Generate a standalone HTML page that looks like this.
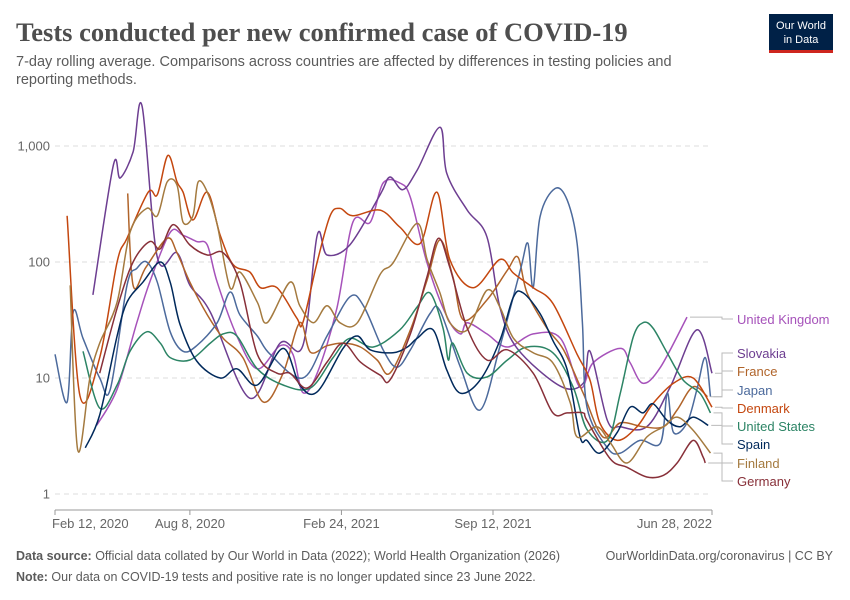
<!DOCTYPE html>
<html><head><meta charset="utf-8"><style>
body{margin:0;background:#fff;font-family:"Liberation Sans",sans-serif}
#wrap{position:relative;width:850px;height:600px;overflow:hidden}
</style></head><body>
<div id="wrap">
<svg id="svg" width="850" height="600" xmlns="http://www.w3.org/2000/svg">
<text x="16" y="41" font-family="Liberation Serif, serif" font-size="26.5" font-weight="bold" fill="#4e4e4e">Tests conducted per new confirmed case of COVID-19</text>
<text x="16" y="66" font-size="14.5" fill="#5b5b5b">7-day rolling average. Comparisons across countries are affected by differences in testing policies and</text>
<text x="16" y="84" font-size="14.5" fill="#5b5b5b">reporting methods.</text>
<g><rect x="769" y="14" width="64" height="36" fill="#002147"/><rect x="769" y="50" width="64" height="3" fill="#ce261e"/>
<text x="801" y="29" font-size="11" fill="#fff" text-anchor="middle">Our World</text><text x="801" y="43" font-size="11" fill="#fff" text-anchor="middle">in Data</text></g>
<g id="grid"></g><g id="lines"></g><g id="labels"></g>
<text x="16" y="560" font-size="12.5" fill="#5b5b5b"><tspan font-weight="bold">Data source:</tspan> Official data collated by Our World in Data (2022); World Health Organization (2026)</text>
<text x="833" y="560" font-size="12.5" fill="#5b5b5b" text-anchor="end">OurWorldinData.org/coronavirus | CC BY</text>
<text x="16" y="581" font-size="12.5" fill="#5b5b5b"><tspan font-weight="bold">Note:</tspan> Our data on COVID-19 tests and positive rate is no longer updated since 23 June 2022.</text>
</svg></div>
<script>
// days since 2020-02-12 and tests per case
const yTicks=[1,10,100,1000];
const yTickLabels=["1","10","100","1,000"];
const xTickDays=[0,178,378,578,867];
const xTickLabels=["Feb 12, 2020","Aug 8, 2020","Feb 24, 2021","Sep 12, 2021","Jun 28, 2022"];
const names=["United Kingdom","Slovakia","France","Japan","Denmark","United States","Spain","Finland","Germany"];
const colors=["#a652ba","#6d3e91","#b0642a","#4c6a9c","#c4470f","#2c8465","#00295b","#a47a3f","#883039"];
const ukDays=[55,82,108,125,152,169,187,201,214,240,267,297,314,327,346,372,393,416,433,455,469,491,517,535,544,570,597,631,667,693,710,746,759,776,799,834];
const ukVals=[3.9,8,30,67,180,170,150,140,67,23,12,19,16,7.5,11,40,220,220,480,480,360,98,34,24,30,24,18.5,24,22,8.3,13.5,18,13.5,9,12.4,33.5];
const skDays=[50,77,86,103,115,135,161,178,205,257,297,327,346,359,389,429,442,459,478,508,517,544,570,587,610,667,697,706,729,746,781,812,847,867];
const skVals=[52,680,530,890,2200,110,120,63,37,6.7,20,19,170,115,140,380,540,420,620,1450,580,280,165,41,18,8.5,9,17,4.3,3.8,3.8,8.4,26,11];
const frDays=[96,103,120,148,161,178,201,222,248,275,301,323,337,359,380,403,425,442,469,491,508,525,539,570,597,611,623,649,671,697,723,746,776,803,821,842,861];
const frVals=[390,63,90,160,120,67,35,22,15,6.2,11,30,16.7,19,20,18.5,14.3,11,26,70,155,75,31.6,47,85,110,54,27,17.5,7.4,3.1,4.1,3.8,3.8,5.3,8.4,6.9];
const jpDays=[0,16,24,37,59,73,95,108,121,135,152,169,187,214,231,244,267,284,327,359,389,407,433,451,469,495,508,535,561,587,614,624,631,640,660,676,689,696,702,729,746,772,799,808,816,834,847,858,865];
const jpVals=[16,6.2,37,22,10,8,63,88,100,67,25,17,19,30,55,35,23,16,10,23,50,42,17.5,12.4,17.5,36,38,12.4,5.3,18.5,85,145,60,245,430,340,145,30,5.6,2.5,2.25,2.9,2.75,7.4,3.4,4.1,7.9,15,6.9];
const dkDays=[16,33,59,82,95,123,135,149,161,169,182,201,218,235,257,271,293,319,327,346,363,376,393,429,455,482,504,521,552,587,605,631,657,689,706,719,742,768,789,816,842,867];
const dkVals=[250,7,15,100,160,400,380,830,490,400,230,400,170,95,82,60,60,33,30,100,250,290,250,280,200,145,400,105,60,105,80,60,44,16,9.6,4.1,2.9,3.8,6,9,10,5.6];
const usDays=[37,59,82,99,121,139,152,178,205,222,240,267,301,337,367,389,420,455,478,495,512,519,525,544,570,597,623,657,684,702,729,746,763,776,789,808,829,851,865];
const usVals=[17,5.5,8.7,17,25,20,15,14.3,20,24,23,12,8.7,8.2,15,22,18.5,26,41,54,27,14.3,20,11,10.2,14.3,18.5,16.5,8.3,3.6,2.9,7.4,22.5,30,27,16.4,9.6,7.4,5];
const esDays=[40,59,82,95,116,139,152,165,187,218,240,267,301,323,346,380,399,416,446,465,478,499,517,535,561,587,605,618,640,657,676,693,702,719,742,759,776,789,808,825,842,862];
const esVals=[2.5,4.8,23,45,67,100,67,29,14,10,12,8.7,18,8.7,7.6,18,23,17.5,16.5,18.5,22,26,11.7,7.4,9.6,21,50,54,36,21,11.7,3.1,2.9,2.25,3.4,5.6,5,6,4.3,3.8,4.6,3.9];
const fiDays=[20,30,46,59,82,99,121,135,148,161,169,182,189,201,214,231,244,267,280,310,323,341,359,376,399,429,446,478,491,508,521,544,570,587,605,631,657,680,689,715,733,755,781,803,821,842,865];
const fiVals=[63,2.4,10,20,45,180,290,250,490,460,220,250,490,400,210,60,82,45,30,67,42,30,42,30,30,78,98,215,105,54,30,26,57,41,22,16.5,13.5,6.1,3.1,3.8,2.75,1.85,3.1,3.8,4.6,3.55,2.25];
const deDays=[59,82,103,125,139,156,178,201,222,244,267,293,310,333,359,380,403,429,442,469,491,506,521,544,570,597,631,657,676,697,702,733,755,781,803,821,842,855,858];
const deVals=[11,40,100,150,130,210,140,115,120,67,16,11,11,8.2,13.7,20,13.7,10.6,9.6,24,75,160,90,27,14.3,17.5,11,5,5,5,4.3,2,1.7,1.4,1.45,1.85,2.9,2.1,1.85];
const labelY=[319,353,371,390,408,426,444,463,481];
const series=[[ukDays,ukVals],[skDays,skVals],[frDays,frVals],[jpDays,jpVals],[dkDays,dkVals],[usDays,usVals],[esDays,esVals],[fiDays,fiVals],[deDays,deVals]];

const X0=55,X1=712,maxDay=867;
const xS=d=>X0+(X1-X0)*d/maxDay;
const yS=v=>494-116*Math.log10(v);
const NS="http://www.w3.org/2000/svg";
function mk(tag,attrs,parent){const e=document.createElementNS(NS,tag);for(const k in attrs)e.setAttribute(k,attrs[k]);parent.appendChild(e);return e;}
const grid=document.getElementById('grid');
yTicks.forEach((t,i)=>{
  const l=mk('line',{x1:X0,x2:X1,y1:yS(t),y2:yS(t),stroke:'#ddd','stroke-dasharray':'5,4'},grid);
  
  
  const tx=mk('text',{x:50,y:yS(t)+4.5,'text-anchor':'end','font-size':13,fill:'#666'},grid);
  tx.textContent=yTickLabels[i];
  
  
});
const ax=mk('line',{x1:X0,x2:X1,y1:510,y2:510,stroke:'#999'},grid);


xTickDays.forEach((d,i)=>{
  const x=xS(d);
  const tk=mk('line',{x1:x,x2:x,y1:510,y2:515,stroke:'#999'},grid);
  
  
  const anchor=i==0?'start':(i==xTickDays.length-1?'end':'middle');
  const tx=mk('text',{x:i==0?x-3:x,y:528,'text-anchor':anchor,'font-size':13,fill:'#666'},grid);
  tx.textContent=xTickLabels[i];
  
  
});
function pathD(pts){
  let d='M'+pts[0][0].toFixed(1)+','+pts[0][1].toFixed(1);
  for(let i=0;i<pts.length-1;i++){
    const p0=pts[Math.max(0,i-1)],p1=pts[i],p2=pts[i+1],p3=pts[Math.min(pts.length-1,i+2)];
    const t=6;
    const c1=[p1[0]+(p2[0]-p0[0])/t,p1[1]+(p2[1]-p0[1])/t];
    const c2=[p2[0]-(p3[0]-p1[0])/t,p2[1]-(p3[1]-p1[1])/t];
    d+=`C${c1[0].toFixed(1)},${c1[1].toFixed(1)} ${c2[0].toFixed(1)},${c2[1].toFixed(1)} ${p2[0].toFixed(1)},${p2[1].toFixed(1)}`;
  }
  return d;
}
const lines=document.getElementById('lines'),labels=document.getElementById('labels');
series.forEach((s,i)=>{
  const pts=s[0].map((d,j)=>[xS(d),yS(s[1][j])]);
  const p=mk('path',{d:pathD(pts),fill:'none',stroke:colors[i],'stroke-width':1.5,'stroke-linejoin':'round'},lines);
  
  
  const last=pts[pts.length-1];
  const ly=labelY[i];
  const ld=mk('path',{d:`M${last[0]+3},${last[1]} H722 V${ly} H733`,fill:'none',stroke:'#bbb','stroke-width':1},labels);
  
  
  const t=mk('text',{x:737,y:ly+5,'font-size':13,fill:colors[i]},labels);
  t.textContent=names[i];
  
  
});
</script>
</body></html>
